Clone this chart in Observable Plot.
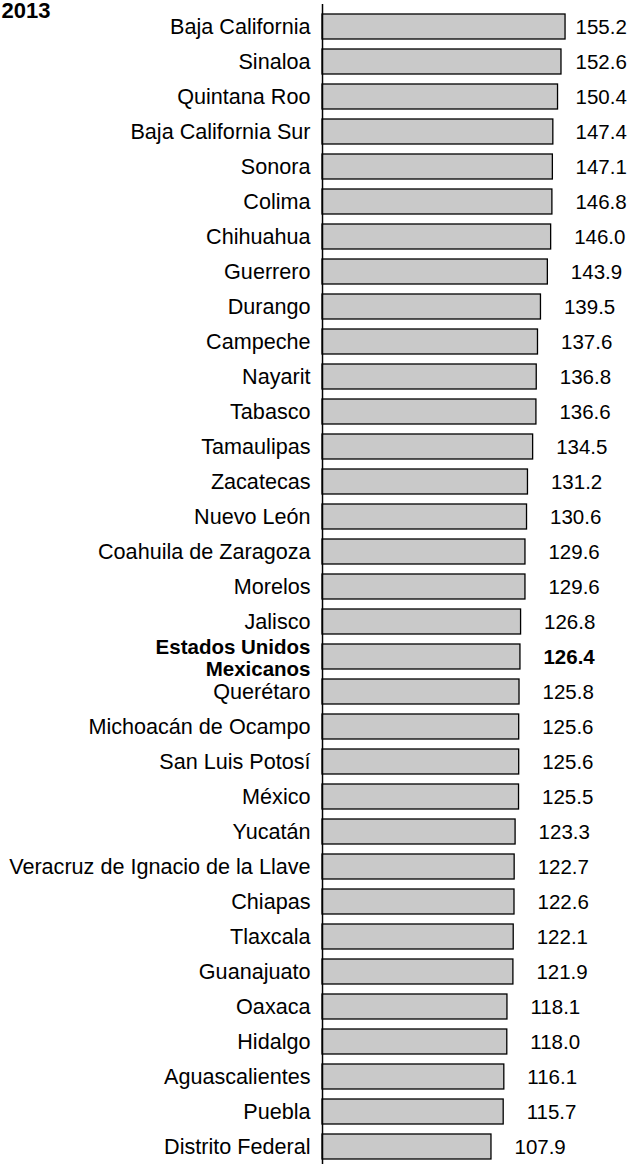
<!DOCTYPE html>
<html>
<head>
<meta charset="utf-8">
<script src="https://cdn.jsdelivr.net/npm/d3@7"></script>
<script src="https://cdn.jsdelivr.net/npm/@observablehq/plot@0.6"></script>
<style>
  html, body { margin: 0; padding: 0; background: #fff; }
  svg { overflow: visible; }
</style>
</head>
<body>
<div id="chart"></div>
<script>
const title = "2013";
const states = [
  "Baja California", "Sinaloa", "Quintana Roo", "Baja California Sur", "Sonora",
  "Colima", "Chihuahua", "Guerrero", "Durango", "Campeche", "Nayarit", "Tabasco",
  "Tamaulipas", "Zacatecas", "Nuevo León", "Coahuila de Zaragoza", "Morelos",
  "Jalisco", "Estados Unidos Mexicanos", "Querétaro", "Michoacán de Ocampo",
  "San Luis Potosí", "México", "Yucatán", "Veracruz de Ignacio de la Llave",
  "Chiapas", "Tlaxcala", "Guanajuato", "Oaxaca", "Hidalgo", "Aguascalientes",
  "Puebla", "Distrito Federal"
];
const values = [
  155.2, 152.6, 150.4, 147.4, 147.1, 146.8, 146.0, 143.9, 139.5, 137.6, 136.8, 136.6,
  134.5, 131.2, 130.6, 129.6, 129.6, 126.8, 126.4, 125.8, 125.6, 125.6, 125.5, 123.3,
  122.7, 122.6, 122.1, 121.9, 118.1, 118.0, 116.1, 115.7, 107.9
];
const national = "Estados Unidos Mexicanos";
const nationalLabel = "Estados Unidos\nMexicanos";

const data = states.map((s, i) => ({state: s, value: values[i], national: s === national}));
const regular = data.filter(d => !d.national);
const highlight = data.filter(d => d.national);

const labelCap = 146.9; // value labels do not go further right than this

const font = "'Liberation Sans', Arial, Helvetica, sans-serif";

const chart = Plot.plot({
  width: 641,
  height: 1164,
  marginLeft: 322,
  marginRight: 0,
  marginTop: 9,
  marginBottom: 0,
  style: {fontFamily: font, background: "#fff", overflow: "visible"},
  x: {domain: [0, 203.7], axis: null},
  y: {domain: states, axis: null, paddingInner: 0.293, paddingOuter: 0},
  marks: [
    Plot.barX(data, {x1: 0, x2: "value", y: "state", fill: "#c9c9c9", stroke: "#000", strokeWidth: 1.3}),
    Plot.ruleX([0], {stroke: "#000", strokeWidth: 1.5, insetTop: -5}),
    Plot.text(regular, {x: 0, y: "state", text: "state", dx: -12, textAnchor: "end", fontSize: 21.6, fill: "#000"}),
    Plot.text(highlight, {x: 0, y: "state", text: () => nationalLabel, dx: -12, dy: 1, textAnchor: "end", fontSize: 20.5, fontWeight: "bold", lineHeight: 1.05, fill: "#000"}),
    Plot.text(regular, {x: d => Math.min(d.value, labelCap), y: "state", text: d => d.value.toFixed(1), dx: 23, textAnchor: "start", fontSize: 20.5, fill: "#000"}),
    Plot.text(highlight, {x: d => Math.min(d.value, labelCap), y: "state", text: d => d.value.toFixed(1), dx: 23, textAnchor: "start", fontSize: 20.5, fontWeight: "bold", fill: "#000"}),
    Plot.text([title], {frameAnchor: "top-left", dx: -321, dy: 8, lineAnchor: "bottom", textAnchor: "start", fontSize: 22, fontWeight: "bold", fill: "#000"})
  ]
});
document.getElementById("chart").appendChild(chart);
</script>
</body>
</html>
